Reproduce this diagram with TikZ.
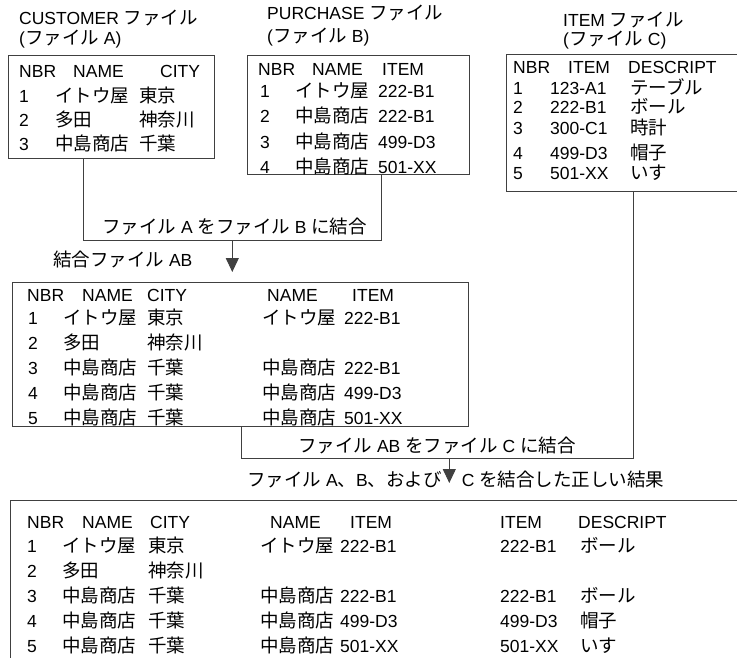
\documentclass[tikz,border=0pt]{standalone}
\usepackage{fontspec}
\setmainfont{Liberation Sans}
\newfontfamily\jpfont{Noto Sans CJK JP}[Scale=1.057]
\usetikzlibrary{arrows.meta,calc}

% Japanese characters switch to the CJK font by themselves
\newXeTeXintercharclass\jpclass
\newcount\jpchar
\newcommand\jprange[2]{\jpchar=#1\relax
  \loop\XeTeXcharclass\jpchar=\jpclass\relax
  \advance\jpchar by 1\relax
  \ifnum\jpchar<#2\relax\repeat}
\jprange{"3000}{"3100}
\jprange{"4E00}{"A000}
\jprange{"FF00}{"FFF0}
\XeTeXinterchartoks 0 \jpclass = {\jpfont}
\XeTeXinterchartoks 4095 \jpclass = {\jpfont}
\XeTeXinterchartoks \jpclass 0 = {\rmfamily}
\XeTeXinterchartoks \jpclass 4095 = {\rmfamily}
\XeTeXinterchartokenstate=1

\tikzset{
  filebox/.style={draw=black!75,line width=1pt,anchor=north west,inner sep=0pt},
  cell/.style={anchor=base west,inner sep=0pt,font=\fontsize{17.5}{19}\selectfont},
  link/.style={draw=black!75,line width=1pt},
}

\begin{document}
\begin{tikzpicture}[x=1pt,y=-1pt,>={Triangle[width=13pt,length=14pt]}]
\useasboundingbox (0,0) rectangle (737,657);
\clip (0,0) rectangle (737,657);
% the three input files
\node[filebox,minimum width=206pt,minimum height=103.2pt] (fA) at (8,54.5) {};
\node[filebox,minimum width=222pt,minimum height=119.8pt] (fB) at (247,54.5) {};
\node[filebox,minimum width=260pt,minimum height=137.2pt] (fC) at (506,53.5) {};
\node[cell] (tA1) at (19,24) {CUSTOMER ファイル};
\node[cell] (tA2) at (19,44) {(ファイル A)};
\node[cell] (tB1) at (267,19) {PURCHASE ファイル};
\node[cell] (tB2) at (267,42) {(ファイル B)};
\node[cell] (tC1) at (563,26) {ITEM ファイル};
\node[cell] (tC2) at (563,45) {(ファイル C)};
% file A
\node[cell] (a-h1) at (19,77) {NBR};
\node[cell] (a-h2) at (73,77) {NAME};
\node[cell] (a-h3) at (160,77) {CITY};
\foreach \n/\nm/\ct [count=\i] in {1/イトウ屋/東京,2/多田/神奈川,3/中島商店/千葉}{
  \node[cell] (a-n\i) at (19,{78+24.3*\i}) {\n};
  \node[cell] (a-m\i) at (55,{78+24.3*\i}) {\nm};
  \node[cell] (a-c\i) at (139,{78+24.3*\i}) {\ct};
}
% file B
\node[cell] (b-h1) at (258,75) {NBR};
\node[cell] (b-h2) at (312,75) {NAME};
\node[cell] (b-h3) at (382,75) {ITEM};
\foreach \n/\nm/\it [count=\i] in {1/イトウ屋/222-B1,2/中島商店/222-B1,3/中島商店/499-D3,4/中島商店/501-XX}{
  \node[cell] (b-n\i) at (260,{71.5+25.5*\i}) {\n};
  \node[cell] (b-m\i) at (295,{71.5+25.5*\i}) {\nm};
  \node[cell] (b-i\i) at (378,{71.5+25.5*\i}) {\it};
}
% file C
\node[cell] (c-h1) at (513,73) {NBR};
\node[cell] (c-h2) at (568,73) {ITEM};
\node[cell] (c-h3) at (628,73) {DESCRIPT};
\foreach \y/\n/\it/\ds [count=\i] in {94/1/123-A1/テーブル,113/2/222-B1/ボール,134/3/300-C1/時計,159/4/499-D3/帽子,179/5/501-XX/いす}{
  \node[cell] (c-n\i) at (513,\y) {\n};
  \node[cell] (c-i\i) at (550,\y) {\it};
  \node[cell] (c-d\i) at (630,\y) {\ds};
}
% join A with B
\coordinate (jA) at (83.3,240.5);
\coordinate (jB) at (381.7,240.5);
\coordinate (jAB) at (232.3,240.5);
\coordinate (tAB) at (232.3,272);
\draw[link] (fA.south -| jA) -- (jA) -- (jB) -- (fB.south -| jB);
\draw[link,->] (jAB) -- (tAB);
\node[cell] (lAB) at (102,233.5) {ファイル A をファイル B に結合};
\node[cell] (tAB1) at (53,266) {結合ファイル AB};
% file AB
\node[filebox,minimum width=456.6pt,minimum height=144.3pt] (fAB) at (11.7,281.7) {};
\node[cell] (ab-h1) at (27,301.5) {NBR};
\node[cell] (ab-h2) at (82,301.5) {NAME};
\node[cell] (ab-h3) at (147,301.5) {CITY};
\node[cell] (ab-h4) at (267,301.5) {NAME};
\node[cell] (ab-h5) at (352,301.5) {ITEM};
\foreach \n/\nm/\ct/\nb/\it [count=\i] in {1/イトウ屋/東京/イトウ屋/222-B1,2/多田/神奈川//,3/中島商店/千葉/中島商店/222-B1,4/中島商店/千葉/中島商店/499-D3,5/中島商店/千葉/中島商店/501-XX}{
  \node[cell] (ab-n\i) at (28,{299+25*\i}) {\n};
  \node[cell] (ab-m\i) at (63,{299+25*\i}) {\nm};
  \node[cell] (ab-c\i) at (147,{299+25*\i}) {\ct};
  \node[cell] (ab-b\i) at (262,{299+25*\i}) {\nb};
  \node[cell] (ab-i\i) at (344,{299+25*\i}) {\it};
}
% join AB with C
\coordinate (jL) at (241.7,458.3);
\coordinate (jR) at (633.3,458.3);
\coordinate (jABC) at (449.3,458.3);
\coordinate (tABC) at (449.3,483);
\draw[link] (fAB.south -| jL) -- (jL) -- (jR) -- (fC.south -| jR);
\draw[link,->] (jABC) -- (tABC);
\node[cell] (lABC) at (298,452) {ファイル AB をファイル C に結合};
\node[cell] (tABC1) at (247,486) {ファイル A、B、および\hspace{20pt}C を結合した正しい結果};
% result
\node[filebox,minimum width=760pt,minimum height=200pt] (fABC) at (10,500) {};
\node[cell] (r-h1) at (27,528) {NBR};
\node[cell] (r-h2) at (82,528) {NAME};
\node[cell] (r-h3) at (150,528) {CITY};
\node[cell] (r-h4) at (270,528) {NAME};
\node[cell] (r-h5) at (350,528) {ITEM};
\node[cell] (r-h6) at (500,528) {ITEM};
\node[cell] (r-h7) at (578,528) {DESCRIPT};
\foreach \n/\nm/\ct/\nb/\it/\ic/\ds [count=\i] in {1/イトウ屋/東京/イトウ屋/222-B1/222-B1/ボール,2/多田/神奈川////,3/中島商店/千葉/中島商店/222-B1/222-B1/ボール,4/中島商店/千葉/中島商店/499-D3/499-D3/帽子,5/中島商店/千葉/中島商店/501-XX/501-XX/いす}{
  \node[cell] (r-n\i) at (27,{527+25*\i}) {\n};
  \node[cell] (r-m\i) at (62,{527+25*\i}) {\nm};
  \node[cell] (r-c\i) at (148,{527+25*\i}) {\ct};
  \node[cell] (r-b\i) at (260,{527+25*\i}) {\nb};
  \node[cell] (r-i\i) at (340,{527+25*\i}) {\it};
  \node[cell] (r-j\i) at (500,{527+25*\i}) {\ic};
  \node[cell] (r-d\i) at (580,{527+25*\i}) {\ds};
}
\end{tikzpicture}
\end{document}
